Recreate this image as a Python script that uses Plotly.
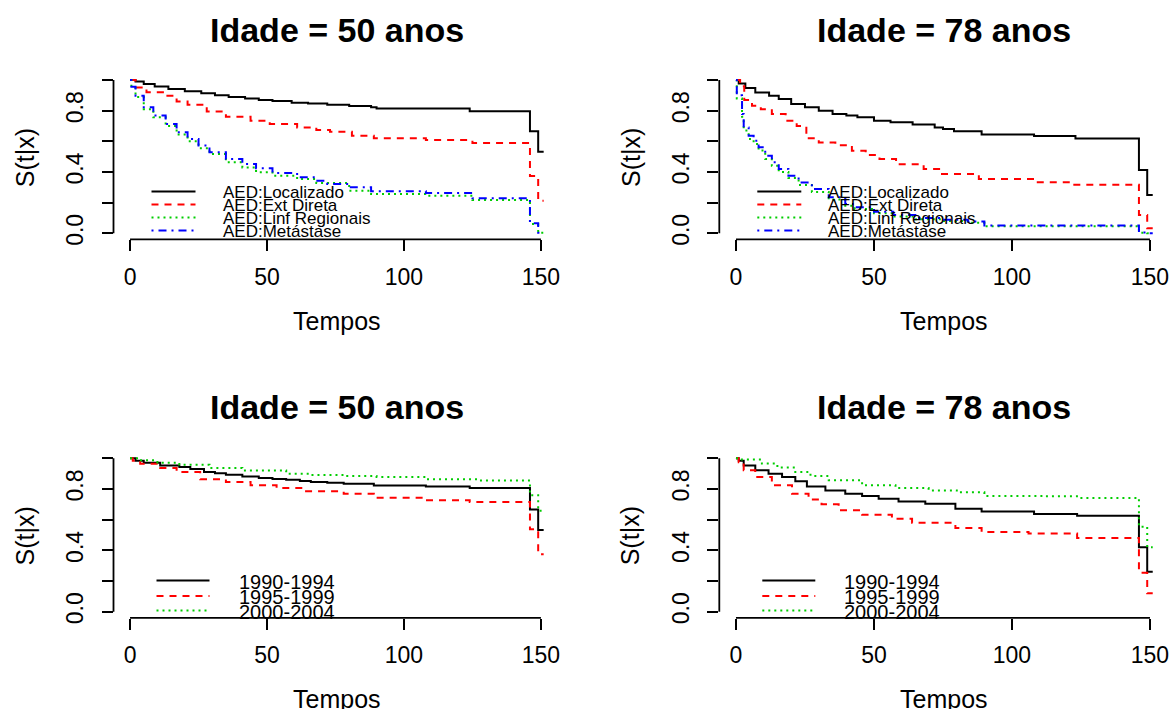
import plotly.graph_objects as go

W, H = 1176, 709

# ---------------- data ----------------
titles = ["Idade = 50 anos", "Idade = 78 anos", "Idade = 50 anos", "Idade = 78 anos"]
x_ticks = [0, 50, 100, 150]
y_ticks = [0.0, 0.2, 0.4, 0.6, 0.8, 1.0]
y_ticktext = ["0.0", "", "0.4", "", "0.8", ""]
x_label = "Tempos"
y_label = "S(t|x)"

aed_names = ["AED:Localizado", "AED:Ext Direta", "AED:Linf Regionais", "AED:Metástase"]
period_names = ["1990-1994", "1995-1999", "2000-2004"]

# Top-left: Idade 50, AED
tl_loc_t = [0, 2, 5, 9, 14, 20, 26, 31, 36, 42, 47, 52, 59, 65, 72, 80, 88, 90, 124, 146, 149, 151]
tl_loc_s = [1.0, 0.99, 0.974, 0.958, 0.941, 0.927, 0.913, 0.900, 0.889, 0.879, 0.870, 0.863, 0.852, 0.847, 0.839, 0.830, 0.822, 0.815, 0.797, 0.665, 0.532, 0.532]
tl_ext_t = [0, 2, 6, 12, 17, 21, 28, 35, 44, 51, 61, 68, 73, 81, 89, 108, 125, 146, 149, 151]
tl_ext_s = [1.0, 0.952, 0.920, 0.898, 0.86, 0.839, 0.795, 0.761, 0.735, 0.713, 0.691, 0.674, 0.663, 0.637, 0.620, 0.609, 0.589, 0.374, 0.213, 0.213]
tl_linf_t = [0, 0.5, 2, 5, 8.5, 13, 17, 21, 25, 29, 35, 41, 46, 52, 61, 68, 80, 88, 108, 125, 146, 149, 151]
tl_linf_s = [1.0, 0.95, 0.89, 0.81, 0.757, 0.70, 0.645, 0.60, 0.555, 0.517, 0.463, 0.43, 0.398, 0.375, 0.354, 0.328, 0.278, 0.256, 0.245, 0.217, 0.06, 0.003, 0.003]
tl_met_t = [0, 0.5, 2, 5, 8.5, 13, 17, 21, 25, 29, 35, 41, 46, 52, 61, 68, 72, 80, 88, 108, 125, 146, 149, 151]
tl_met_s = [1.0, 0.956, 0.898, 0.822, 0.768, 0.713, 0.659, 0.615, 0.572, 0.528, 0.485, 0.452, 0.424, 0.394, 0.365, 0.343, 0.322, 0.300, 0.274, 0.263, 0.228, 0.065, 0.004, 0.004]

# Top-right: Idade 78, AED
tr_loc_t = [0, 1, 3.4, 7, 12, 15.5, 20, 25, 30, 35, 40, 44, 50, 56, 64, 72, 75, 79, 89, 108, 123, 146, 149, 151]
tr_loc_s = [1.0, 0.978, 0.948, 0.919, 0.898, 0.876, 0.843, 0.822, 0.800, 0.778, 0.768, 0.757, 0.735, 0.724, 0.709, 0.691, 0.680, 0.665, 0.644, 0.635, 0.618, 0.413, 0.25, 0.25]
tr_ext_t = [0, 1.5, 3, 5.8, 9, 13, 18, 22, 25.5, 30, 36, 42, 47, 52, 58, 68, 74, 88, 108, 122, 146, 149, 151]
tr_ext_s = [1.0, 0.96, 0.87, 0.832, 0.81, 0.778, 0.735, 0.70, 0.62, 0.593, 0.575, 0.539, 0.51, 0.485, 0.45, 0.42, 0.387, 0.354, 0.333, 0.317, 0.12, 0.033, 0.033]
tr_linf_t = [0, 0.3, 2.2, 2.8, 4.6, 6.4, 8.2, 10.6, 13, 15.5, 19, 22.7, 27.5, 33.6, 39.6, 43, 50, 57, 65, 75, 84, 90, 146, 149, 151]
tr_linf_s = [1.0, 0.88, 0.76, 0.67, 0.615, 0.583, 0.54, 0.485, 0.44, 0.40, 0.36, 0.315, 0.27, 0.22, 0.18, 0.158, 0.13, 0.11, 0.092, 0.08, 0.068, 0.045, 0.004, 0.0, 0.0]
tr_met_t = [0, 0.3, 2.2, 2.8, 4.6, 6.4, 8.2, 10.6, 13, 15.5, 19, 22.7, 27.5, 33.6, 39.6, 43, 50, 57, 65, 75, 84, 90, 146, 149, 151]
tr_met_s = [1.0, 0.90, 0.778, 0.691, 0.637, 0.604, 0.561, 0.506, 0.463, 0.42, 0.376, 0.332, 0.289, 0.235, 0.191, 0.17, 0.14, 0.12, 0.10, 0.088, 0.076, 0.05, 0.005, 0.0, 0.0]

# Bottom-left: Idade 50, periods
bl_p1_t = [0, 2, 5, 11, 18, 22, 27, 31, 35, 41, 47, 52, 57, 62, 66, 72, 78, 89, 108, 124, 146, 149, 151]
bl_p1_s = [1.0, 0.985, 0.972, 0.954, 0.943, 0.93, 0.911, 0.902, 0.893, 0.882, 0.871, 0.866, 0.861, 0.852, 0.845, 0.84, 0.834, 0.823, 0.817, 0.806, 0.667, 0.533, 0.533]
bl_p2_t = [0, 1, 3.7, 11, 17, 25.6, 35, 44, 53.5, 63, 78, 89, 108, 124, 146, 149, 151]
bl_p2_s = [1.0, 0.985, 0.965, 0.937, 0.911, 0.863, 0.846, 0.824, 0.806, 0.785, 0.769, 0.743, 0.726, 0.715, 0.537, 0.374, 0.374]
bl_p3_t = [0, 3, 10, 18, 29, 41, 57, 66, 78, 90, 108, 127, 146, 149, 151]
bl_p3_s = [1.0, 0.987, 0.972, 0.958, 0.937, 0.921, 0.90, 0.892, 0.884, 0.878, 0.863, 0.856, 0.76, 0.658, 0.658]

# Bottom-right: Idade 78, periods
br_p1_t = [0, 1, 2.8, 7, 11.8, 16.7, 21.5, 25.7, 32.4, 39.6, 45.7, 51.7, 58.9, 68.6, 79.5, 89, 108, 123.6, 146, 149, 151]
br_p1_s = [1.0, 0.985, 0.954, 0.922, 0.900, 0.878, 0.85, 0.817, 0.791, 0.769, 0.754, 0.736, 0.719, 0.704, 0.671, 0.654, 0.637, 0.626, 0.42, 0.26, 0.26]
br_p2_t = [0, 1, 2.8, 7, 13, 20.3, 26.3, 31, 37.2, 45.7, 56.5, 63.8, 79.5, 89, 106, 123.6, 146, 149, 151]
br_p2_s = [1.0, 0.975, 0.922, 0.878, 0.824, 0.769, 0.732, 0.70, 0.661, 0.632, 0.606, 0.58, 0.546, 0.52, 0.509, 0.481, 0.254, 0.12, 0.12]
br_p3_t = [0, 1, 9.4, 15, 21.5, 27, 33.6, 45.7, 57.8, 69.8, 80, 90, 112, 124, 146, 149, 151]
br_p3_s = [1.0, 0.993, 0.966, 0.94, 0.911, 0.885, 0.857, 0.824, 0.806, 0.791, 0.778, 0.755, 0.752, 0.742, 0.554, 0.42, 0.42]

# ---------------- styles ----------------
colors = ["#000000", "#FF0000", "#00CD00", "#0000FF"]
dashes = ["solid", "7px,6px", "2px,4px", "2px,5px,8px,5px"]
FONT = "Liberation Sans, Arial, Helvetica, sans-serif"

XR = [-6.04, 157.04]
YR = [-0.04, 1.04]

# panel regions in pixels: (left, right, top, bottom)
panels = [
    (113.5, 560.2, 73.9, 239.4),
    (719.3, 1169.4, 73.9, 239.4),
    (113.5, 560.2, 452.2, 617.8),
    (719.3, 1169.4, 452.2, 617.8),
]

def px(x):
    return x / W

def py(y):
    return 1 - y / H

panel_series = [
    (aed_names, [(tl_loc_t, tl_loc_s), (tl_ext_t, tl_ext_s), (tl_linf_t, tl_linf_s), (tl_met_t, tl_met_s)]),
    (aed_names, [(tr_loc_t, tr_loc_s), (tr_ext_t, tr_ext_s), (tr_linf_t, tr_linf_s), (tr_met_t, tr_met_s)]),
    (period_names, [(bl_p1_t, bl_p1_s), (bl_p2_t, bl_p2_s), (bl_p3_t, bl_p3_s)]),
    (period_names, [(br_p1_t, br_p1_s), (br_p2_t, br_p2_s), (br_p3_t, br_p3_s)]),
]

fig = go.Figure()
shapes = []
annotations = []

for i, (l, r, t, b) in enumerate(panels):
    k = "" if i == 0 else str(i + 1)
    xa, ya = "x" + k, "y" + k
    names, series = panel_series[i]
    for j, (tt, ss) in enumerate(series):
        fig.add_trace(go.Scatter(
            x=tt, y=ss, mode="lines", name=names[j], showlegend=False,
            line=dict(color=colors[j], width=2, dash=dashes[j], shape="hv"),
            xaxis=xa, yaxis=ya,
        ))
    axis_common = dict(
        showgrid=False, zeroline=False, showline=False, automargin=False,
        ticks="outside", ticklen=11, tickwidth=1.8, tickcolor="#000000",
        tickfont=dict(family=FONT, size=23, color="#000000"),
    )
    fig.layout["xaxis" + k] = dict(
        axis_common, domain=[px(l), px(r)], range=XR, anchor=ya,
        tickvals=x_ticks, ticktext=[str(v) for v in x_ticks], ticklabelstandoff=6,
    )
    fig.layout["yaxis" + k] = dict(
        axis_common, domain=[py(b), py(t)], range=YR, anchor=xa,
        tickvals=y_ticks, ticktext=y_ticktext, tickangle=-90, ticklabelstandoff=9,
    )
    # R-style axis lines spanning first to last tick
    shapes.append(dict(type="line", xref=xa, yref=ya + " domain", x0=x_ticks[0], x1=x_ticks[-1],
                       y0=0, y1=0, line=dict(color="#000000", width=1.8)))
    shapes.append(dict(type="line", xref=xa + " domain", yref=ya, x0=0, x1=0,
                       y0=y_ticks[0], y1=y_ticks[-1], line=dict(color="#000000", width=1.8)))
    # title
    cx = (l + r) / 2
    annotations.append(dict(text="<b>" + titles[i] + "</b>", x=px(cx), y=py(30 if i < 2 else 407),
                            xref="paper", yref="paper", showarrow=False, xanchor="center", yanchor="middle",
                            font=dict(family=FONT, size=34, color="#000000")))
    # axis titles
    annotations.append(dict(text=x_label, x=px(cx), y=py(321 if i < 2 else 699),
                            xref="paper", yref="paper", showarrow=False, xanchor="center", yanchor="middle",
                            font=dict(family=FONT, size=25, color="#000000")))
    annotations.append(dict(text=y_label, x=px(l - 89), y=py((t + b) / 2 + 1),
                            xref="paper", yref="paper", showarrow=False, xanchor="center", yanchor="middle",
                            textangle=-90, font=dict(family=FONT, size=25, color="#000000")))
    # legend (R style, drawn inside the plot)
    if i < 2:
        rows = [191.5, 204.5, 217.5, 230.5]
        lx0, lx1, tx, fs = l + 38, l + 82, l + 107, 17
    else:
        rows = [580.5, 596.0, 610.5]
        lx0, lx1, tx, fs = l + 43, l + 96, l + 123, 20
    for j, nm in enumerate(names):
        shapes.append(dict(type="line", xref="paper", yref="paper",
                           x0=px(lx0), x1=px(lx1), y0=py(rows[j]), y1=py(rows[j]),
                           line=dict(color=colors[j], width=2, dash=dashes[j])))
        annotations.append(dict(text=nm, x=px(tx), y=py(rows[j] + 1), xref="paper", yref="paper",
                                showarrow=False, xanchor="left", yanchor="middle",
                                font=dict(family=FONT, size=fs, color="#000000")))

fig.update_layout(
    width=W, height=H,
    margin=dict(l=0, r=0, t=0, b=0),
    paper_bgcolor="#FFFFFF", plot_bgcolor="#FFFFFF",
    shapes=shapes, annotations=annotations,
    showlegend=False,
)

fig.write_html(
    "out.html",
    config={"displayModeBar": False, "staticPlot": True},
    post_script="document.body.style.margin='0px';document.body.style.overflow='hidden';",
)
